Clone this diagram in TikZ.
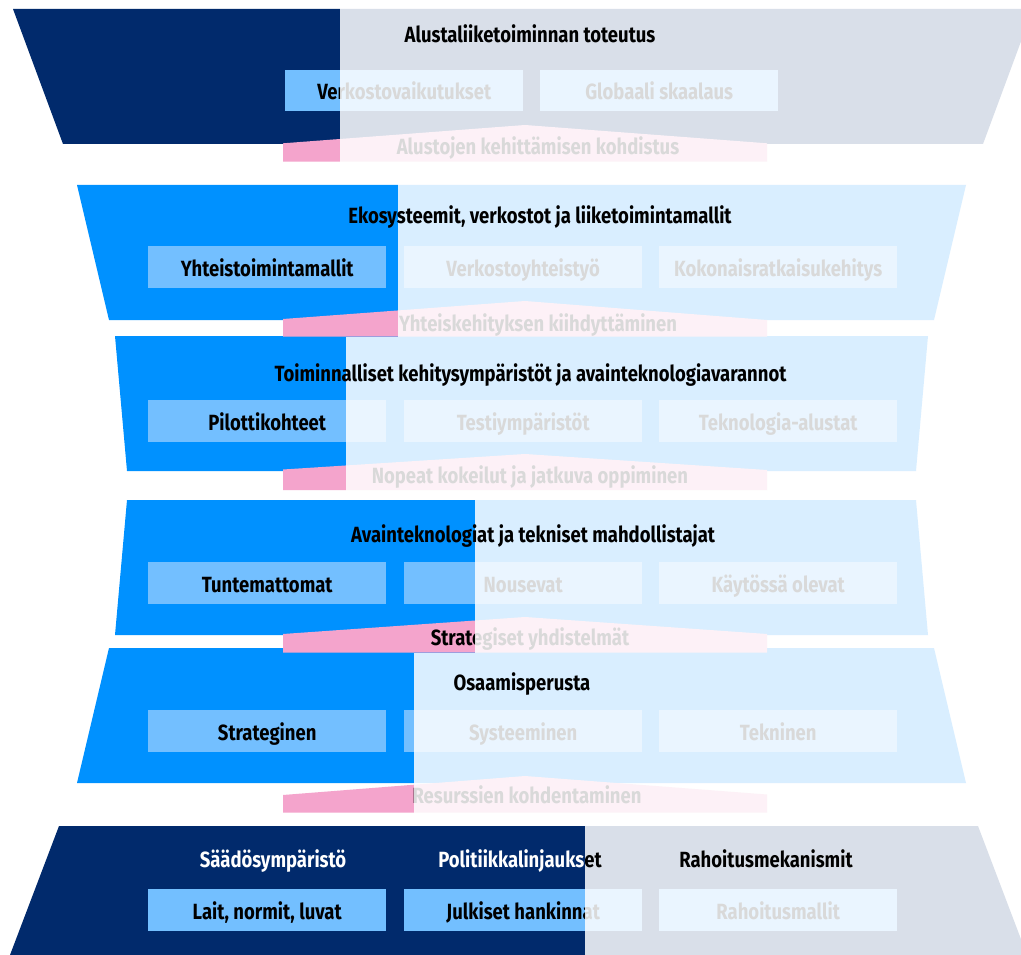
\documentclass[tikz,border=0pt]{standalone}
\usepackage{fontspec}
\setmainfont{Fira Sans}[FakeStretch=0.84]
\definecolor{navy}{HTML}{012A6C}
\definecolor{vblue}{HTML}{0091FF}
\definecolor{boxblue}{HTML}{73BFFF}
\definecolor{pinkc}{HTML}{F4A4CC}
\tikzset{
  lab/.style={font=\fontsize{22}{26}\selectfont\bfseries, inner sep=0pt, anchor=base, text=black},
  wlab/.style={lab, text=white},
  cbox/.style={fill=boxblue, draw=none, minimum width=238pt, minimum height=42pt, inner sep=0pt, anchor=north west},
  fadeover/.style={fill=white, fill opacity=0.85, draw=none},
  banner/.style={fill=pinkc, draw=none},
}
\begin{document}
\begin{tikzpicture}[x=1pt,y=-1pt]
\useasboundingbox (0,0) rectangle (1021,955);
\fill[white] (0,0) rectangle (1021,955);

% layers
\fill[navy]  (13,9) -- (1033,9) -- (983,144) -- (63,144) -- cycle;
\fill[vblue] (77,185) -- (966,185) -- (934,320) -- (109,320) -- cycle;
\fill[vblue] (115,336) -- (928,336) -- (916,471) -- (127,471) -- cycle;
\fill[vblue] (127,500) -- (916,500) -- (928,635) -- (115,635) -- cycle;
\fill[vblue] (109,648) -- (934,648) -- (966,783) -- (77,783) -- cycle;
\fill[navy]  (59,826) -- (978,826) -- (1027,955) -- (10,955) -- cycle;

% banners
\fill[banner] (283,161.7) -- (283,143.3) -- (525,125) -- (767,143.3) -- (767,161.7) -- cycle;
\fill[banner] (283,336.7) -- (283,319) -- (525,301) -- (767,320) -- (767,336.7) -- cycle;
\fill[banner] (283,490) -- (283,469.5) -- (525,454) -- (767,470) -- (767,490) -- cycle;
\fill[banner] (283,652.7) -- (283,634) -- (525,617) -- (767,634) -- (767,652.7) -- cycle;
\fill[banner] (283,812.7) -- (283,795) -- (525,776) -- (767,794.5) -- (767,812.7) -- cycle;

\node[lab] (bt1) at (538,155) {Alustojen kehittämisen kohdistus};
\node[lab] (bt2) at (538,331.7) {Yhteiskehityksen kiihdyttäminen};
\node[lab] (bt3) at (530,483.3) {Nopeat kokeilut ja jatkuva oppiminen};
\node[lab] (bt4) at (530,645) {Strategiset yhdistelmät};
\node[lab] (bt5) at (527,803.3) {Resurssien kohdentaminen};

% boxes row 1
\node[cbox, minimum height=41pt] (b11) at (285,70) {};
\node[cbox, minimum height=41pt] (b12) at (540,70) {};
% rows 2-6
\foreach \r/\y in {2/246,3/400,4/562,5/710,6/889}{
  \node[cbox] (b\r1) at (148,\y) {};
  \node[cbox] (b\r2) at (404,\y) {};
  \node[cbox] (b\r3) at (659,\y) {};
}
\tikzset{inbox/.style={lab, yshift=-9pt}}
\node[inbox] (t11) at (b11.center) {Verkostovaikutukset};
\node[inbox] (t12) at (b12.center) {Globaali skaalaus};
\node[inbox] (t21) at (b21.center) {Yhteistoimintamallit};
\node[inbox] (t22) at (b22.center) {Verkostoyhteistyö};
\node[inbox] (t23) at (b23.center) {Kokonaisratkaisukehitys};
\node[inbox] (t31) at (b31.center) {Pilottikohteet};
\node[inbox] (t32) at (b32.center) {Testiympäristöt};
\node[inbox] (t33) at (b33.center) {Teknologia-alustat};
\node[inbox] (t41) at (b41.center) {Tuntemattomat};
\node[inbox] (t42) at (b42.center) {Nousevat};
\node[inbox] (t43) at (b43.center) {Käytössä olevat};
\node[inbox] (t51) at (b51.center) {Strateginen};
\node[inbox] (t52) at (b52.center) {Systeeminen};
\node[inbox] (t53) at (b53.center) {Tekninen};
\node[inbox] (t61) at (b61.center) {Lait, normit, luvat};
\node[inbox] (t62) at (b62.center) {Julkiset hankinnat};
\node[inbox] (t63) at (b63.center) {Rahoitusmallit};

% bottom layer titles (white on navy)
\node[wlab] (h61) at (273,867) {Säädösympäristö};
\node[wlab] (h62) at (520,867) {Politiikkalinjaukset};
\node[wlab] (h63) at (766,867) {Rahoitusmekanismit};

% progress overlays
\fill[fadeover] (340,0) rectangle (1040,170);
\fill[fadeover] (398,170) rectangle (1040,336.5);
\fill[fadeover] (346,336.5) rectangle (1040,495);
\fill[fadeover] (475,495) rectangle (1040,652.7);
\fill[fadeover] (414,652.7) rectangle (1040,820);
\fill[fadeover] (585,820) rectangle (1040,960);

% titles on top
\node[lab] (h1) at (530,43) {Alustaliiketoiminnan toteutus};
\node[lab] (h2) at (540,224) {Ekosysteemit, verkostot ja liiketoimintamallit};
\node[lab] (h3) at (530.5,381) {Toiminnalliset kehitysympäristöt ja avainteknologiavarannot};
\node[lab] (h4) at (533,542.7) {Avainteknologiat ja tekniset mahdollistajat};
\node[lab] (h5) at (522,690) {Osaamisperusta};
\begin{scope}
  \clip (585,820) rectangle (1040,960);
  \node[lab] (h62b) at (520,867) {Politiikkalinjaukset};
  \node[lab] (h63b) at (766,867) {Rahoitusmekanismit};
\end{scope}
\end{tikzpicture}
\end{document}
